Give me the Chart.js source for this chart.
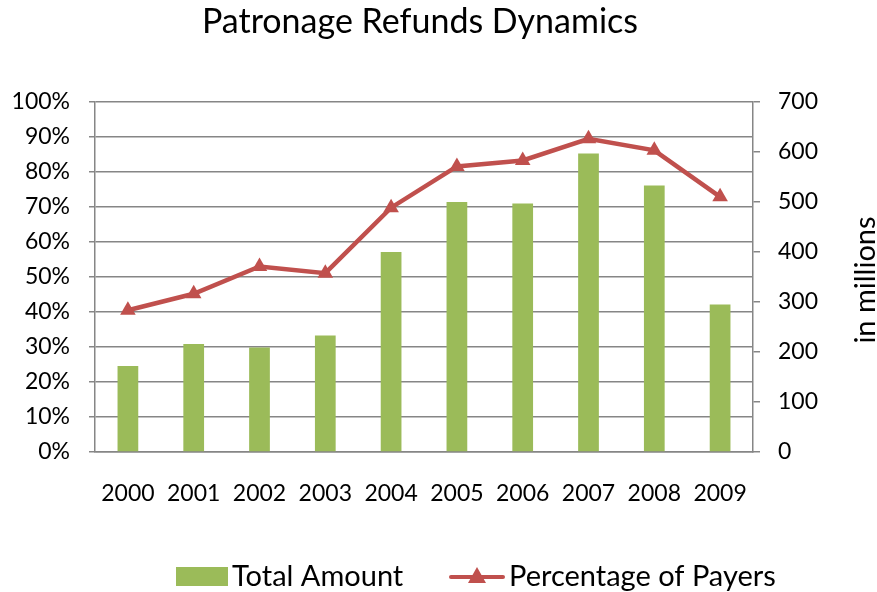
<!DOCTYPE html>
<html>
<head>
<meta charset="utf-8">
<script src="https://cdn.jsdelivr.net/npm/chart.js@4.4.1/dist/chart.umd.min.js"></script>
<style>
html,body{margin:0;padding:0;background:#ffffff;}
#wrap{width:877px;height:592px;position:relative;}
</style>
</head>
<body>
<div id="wrap"><canvas id="c" width="877" height="592"></canvas></div>
<script>
// ---- data ----
const categories = ['2000','2001','2002','2003','2004','2005','2006','2007','2008','2009'];
const totalAmount = [172, 216, 209, 233, 400, 500, 497, 597, 533, 295];          // in millions (right axis)
const percentageOfPayers = [40.5, 45.2, 53.0, 51.1, 69.8, 81.6, 83.3, 89.5, 86.2, 72.9]; // percent (left axis)
const titleText = 'Patronage Refunds Dynamics';
const rightAxisTitle = 'in millions';
const seriesNames = ['Total Amount', 'Percentage of Payers'];

const FONT = 'Lato, "Open Sans", "DejaVu Sans", sans-serif';
const GRID = '#868686';
const GREEN = '#9BBB59';
const RED = '#C0504D';

const decor = {
  id: 'decor',
  afterDraw(chart) {
    const ctx = chart.ctx;
    ctx.save();
    ctx.fillStyle = '#000';
    // title
    ctx.font = '34px ' + FONT;
    ctx.textAlign = 'center';
    ctx.textBaseline = 'middle';
    ctx.fillText(titleText, 420, 22);
    // right axis title
    ctx.save();
    ctx.translate(866, 280);
    ctx.rotate(-Math.PI / 2);
    ctx.font = '29px ' + FONT;
    ctx.fillText(rightAxisTitle, 0, 0);
    ctx.restore();
    // legend
    ctx.font = '29px ' + FONT;
    ctx.textAlign = 'left';
    ctx.textBaseline = 'middle';
    ctx.fillStyle = GREEN;
    ctx.fillRect(176, 567, 52, 19);
    ctx.fillStyle = '#000';
    ctx.fillText(seriesNames[0], 232, 577);
    ctx.strokeStyle = RED;
    ctx.lineWidth = 4;
    ctx.lineCap = 'round';
    ctx.beginPath();
    ctx.moveTo(451, 577);
    ctx.lineTo(503, 577);
    ctx.stroke();
    ctx.fillStyle = RED;
    ctx.beginPath();
    ctx.moveTo(477, 567);
    ctx.lineTo(486, 583);
    ctx.lineTo(468, 583);
    ctx.closePath();
    ctx.fill();
    ctx.fillStyle = '#000';
    ctx.fillText(seriesNames[1], 509, 577);
    ctx.restore();
  }
};

new Chart(document.getElementById('c'), {
  data: {
    labels: categories,
    datasets: [
      {
        type: 'line',
        label: seriesNames[1],
        data: percentageOfPayers,
        yAxisID: 'y',
        borderColor: RED,
        backgroundColor: RED,
        borderWidth: 4.5,
        tension: 0,
        pointStyle: 'triangle',
        pointRadius: 9,
        pointBorderWidth: 0,
        pointBackgroundColor: RED,
        order: 0
      },
      {
        type: 'bar',
        label: seriesNames[0],
        data: totalAmount,
        yAxisID: 'y1',
        backgroundColor: GREEN,
        borderWidth: 0,
        categoryPercentage: 1,
        barPercentage: 0.315,
        order: 1
      }
    ]
  },
  options: {
    responsive: false,
    animation: false,
    devicePixelRatio: 1,
    layout: { padding: { top: 102, left: 0, right: 0, bottom: 0 } },
    plugins: { legend: { display: false }, title: { display: false }, tooltip: { enabled: false } },
    scales: {
      x: {
        offset: true,
        grid: { display: false, drawTicks: false },
        border: { display: true, color: GRID, width: 1.5 },
        ticks: { color: '#000', font: { family: FONT, size: 23 }, padding: 28, maxRotation: 0 },
        afterFit(s) { s.height = 140; }
      },
      y: {
        position: 'left',
        min: 0, max: 100,
        ticks: { stepSize: 10, color: '#000', font: { family: FONT, size: 23 }, padding: 19, callback: v => v + '%' },
        grid: { color: GRID, lineWidth: 1.5, tickLength: 6 },
        border: { color: GRID, width: 1.5 },
        afterFit(s) { s.width = 95; }
      },
      y1: {
        position: 'right',
        min: 0, max: 700,
        ticks: { stepSize: 100, color: '#000', font: { family: FONT, size: 23 }, padding: 18 },
        grid: { drawOnChartArea: false, color: GRID, lineWidth: 1.5, tickLength: 7 },
        border: { color: GRID, width: 1.5 },
        afterFit(s) { s.width = 124; }
      }
    }
  },
  plugins: [decor]
});
</script>
</body>
</html>
